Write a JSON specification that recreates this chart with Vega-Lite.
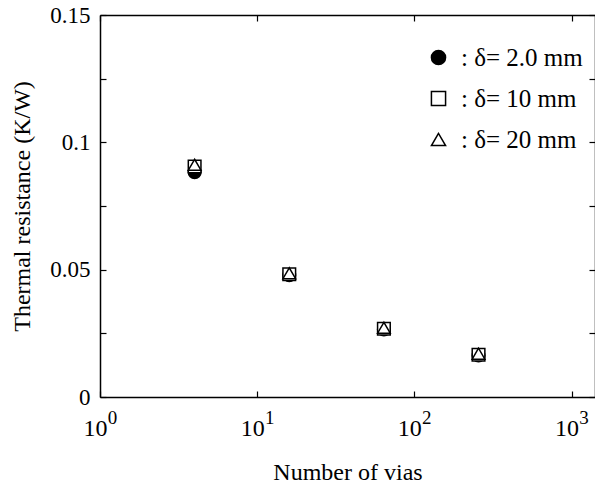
{
  "$schema": "https://vega.github.io/schema/vega-lite/v6.json",
  "autosize": {"type": "none"},
  "padding": {"left": 100, "top": 15, "right": 0, "bottom": 86},
  "width": 495,
  "height": 382,
  "background": "white",
  "config": {
    "view": {"stroke": null},
    "font": "Liberation Serif",
    "axis": {
      "domainColor": "black", "domainWidth": 1.5,
      "tickColor": "black", "tickWidth": 1.2, "tickSize": -6,
      "labelColor": "black", "labelFont": "Liberation Serif", "labelFontSize": 23,
      "titleColor": "black", "titleFont": "Liberation Serif", "titleFontSize": 24, "titleFontWeight": "normal",
      "grid": false
    },
    "legend": {"padding": 0}
  },
  "data": {
    "values": [
      {"n": 4, "r": 0.0883, "s": "2.0 mm"},
      {"n": 16, "r": 0.0478, "s": "2.0 mm"},
      {"n": 64, "r": 0.0265, "s": "2.0 mm"},
      {"n": 256, "r": 0.0163, "s": "2.0 mm"},
      {"n": 4, "r": 0.0905, "s": "10 mm"},
      {"n": 16, "r": 0.0482, "s": "10 mm"},
      {"n": 64, "r": 0.0268, "s": "10 mm"},
      {"n": 256, "r": 0.0166, "s": "10 mm"},
      {"n": 4, "r": 0.0912, "s": "20 mm"},
      {"n": 16, "r": 0.0486, "s": "20 mm"},
      {"n": 64, "r": 0.0272, "s": "20 mm"},
      {"n": 256, "r": 0.0170, "s": "20 mm"}
    ]
  },
  "layer": [
    {
      "mark": {"type": "point", "size": 160, "strokeWidth": 1.5, "opacity": 1},
      "encoding": {
        "x": {
          "field": "n", "type": "quantitative",
          "scale": {"type": "log", "domain": [1, 1410], "nice": false},
          "axis": {
            "orient": "bottom", "values": [1, 10, 100, 1000],
            "labelExpr": "'10'",
            "labelPadding": 25, "labelFlush": false, "labelFontSize": 24, "labelOffset": -5,
            "title": "Number of vias", "titlePadding": 20, "titleColor": "black"
          }
        },
        "y": {
          "field": "r", "type": "quantitative",
          "scale": {"domain": [0, 0.15], "nice": false},
          "axis": {
            "orient": "left",
            "values": [0, 0.025, 0.05, 0.075, 0.1, 0.125, 0.15],
            "format": ".3~f",
            "labelExpr": "round(datum.value * 1000) % 50 == 0 ? datum.label : ''",
            "labelPadding": 16, "labelFlush": false,
            "title": "Thermal resistance  (K/W)", "titlePadding": 15, "titleColor": "black"
          }
        },
        "shape": {
          "field": "s", "type": "nominal",
          "sort": ["2.0 mm", "10 mm", "20 mm"],
          "scale": {"domain": ["2.0 mm", "10 mm", "20 mm"], "range": ["circle", "square", "triangle-up"]},
          "legend": {
            "title": null, "orient": "none", "legendX": 326, "legendY": 30,
            "labelExpr": "': δ= ' + datum.label",
            "labelFont": "Liberation Serif", "labelFontSize": 25, "labelColor": "black",
            "symbolSize": 200, "symbolStrokeWidth": 1.5,
            "rowPadding": 15, "labelOffset": 10
          }
        },
        "fill": {
          "field": "s", "type": "nominal",
          "sort": ["2.0 mm", "10 mm", "20 mm"],
          "scale": {"domain": ["2.0 mm", "10 mm", "20 mm"], "range": ["black", "white", "white"]},
          "legend": {
            "title": null, "orient": "none", "legendX": 326, "legendY": 30,
            "labelExpr": "': δ= ' + datum.label",
            "labelFont": "Liberation Serif", "labelFontSize": 25, "labelColor": "black",
            "symbolSize": 200, "symbolStrokeWidth": 1.5,
            "rowPadding": 15, "labelOffset": 10
          }
        },
        "stroke": {
          "field": "s", "type": "nominal",
          "sort": ["2.0 mm", "10 mm", "20 mm"],
          "scale": {"domain": ["2.0 mm", "10 mm", "20 mm"], "range": ["black", "black", "black"]},
          "legend": {
            "title": null, "orient": "none", "legendX": 326, "legendY": 30,
            "labelExpr": "': δ= ' + datum.label",
            "labelFont": "Liberation Serif", "labelFontSize": 25, "labelColor": "black",
            "symbolSize": 200, "symbolStrokeWidth": 1.5,
            "rowPadding": 15, "labelOffset": 10
          }
        }
      }
    },
    {
      "mark": {"type": "point", "opacity": 0},
      "encoding": {
        "x": {
          "field": "n", "type": "quantitative",
          "axis": {"orient": "top", "values": [1, 10, 100, 1000], "labels": false, "title": null}
        },
        "y": {
          "field": "r", "type": "quantitative",
          "axis": {"orient": "right", "values": [0, 0.025, 0.05, 0.075, 0.1, 0.125, 0.15], "labels": false, "title": null}
        }
      }
    },
    {
      "mark": {"type": "point", "opacity": 0},
      "encoding": {
        "x": {
          "field": "n", "type": "quantitative",
          "axis": {
            "orient": "bottom", "values": [1, 10, 100, 1000],
            "domain": false, "ticks": false, "title": null,
            "labelExpr": "format(log(datum.value) / log(10), '.0f')",
            "labelFontSize": 19, "labelPadding": 11, "labelOffset": 12, "labelFlush": false
          }
        }
      }
    }
  ],
  "resolve": {"axis": {"x": "independent", "y": "independent"}}
}
